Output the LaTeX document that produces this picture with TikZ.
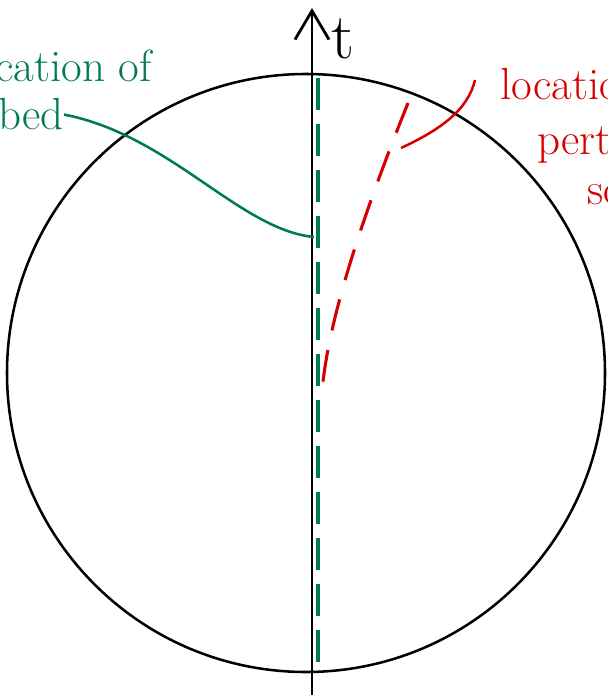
\documentclass[tikz,border=0pt]{standalone}
\usetikzlibrary{arrows.meta,positioning}
\definecolor{sketchGreen}{RGB}{0, 122, 86}
\definecolor{sketchRed}{RGB}{214, 0, 0}

\begin{document}
\begin{tikzpicture}[
  x=0.025cm, y=-0.025cm,
  axis/.style={
    -{Straight Barb[length=0.72cm,width=0.85cm]},
    line width=2pt
  },
  hand/.style={
    inner sep=0pt,
    font=\fontsize{32}{40}\selectfont
  },
  bedline/.style={sketchGreen,line width=2.2pt,dash pattern=on 0.8cm off 0.35cm},
  srcline/.style={sketchRed,line width=2.2pt,dash pattern=on 0.8cm off 0.5cm},
  pointer/.style={line width=1.8pt}
]
  \useasboundingbox (0,0) rectangle (607,695);
  \clip (0,0) rectangle (607,695);

  % domain
  \draw[line width=1.8pt] (306,373) circle[radius=299*0.025cm];

  % time axis
  \coordinate (axisbot) at (312,700);
  \coordinate (axistop) at (312,8);
  \draw[axis] (axisbot) -- (axistop);
  \node[hand,font=\fontsize{46}{50}\selectfont,anchor=base west] (tlabel) at (331,59) {t};

  % unperturbed location
  \coordinate (bedtop) at (318,78);
  \coordinate (bedbot) at (318,666);
  \coordinate (bedmark) at (314,237);
  \draw[bedline] (bedtop) -- (bedbot);
  \node[hand,sketchGreen,anchor=base east] (bedloc) at (152,82) {location of};
  \node[hand,sketchGreen,anchor=base west] (bedname) at (-2,130) {bed};
  \draw[pointer,sketchGreen] (bedname.east) .. controls (170,135) and (240,230) .. (bedmark);

  % perturbed location
  \coordinate (srcbot) at (322,392);
  \coordinate (srctop) at (408,103);
  \coordinate (srcmark) at (401,148);
  \draw[srcline] (srctop) .. controls (365,210) and (328,318) .. (srcbot);
  \node[hand,sketchRed,anchor=base west] (srcloc) at (500,100) {location of};
  \node[hand,sketchRed,anchor=base west] (srcpert) at (537,155) {perturbed};
  \node[hand,sketchRed,anchor=base west] (srcname) at (587,205) {source};
  \draw[pointer,sketchRed] (srcmark) .. controls (440,130) and (468,110) .. (475,80);
\end{tikzpicture}
\end{document}
